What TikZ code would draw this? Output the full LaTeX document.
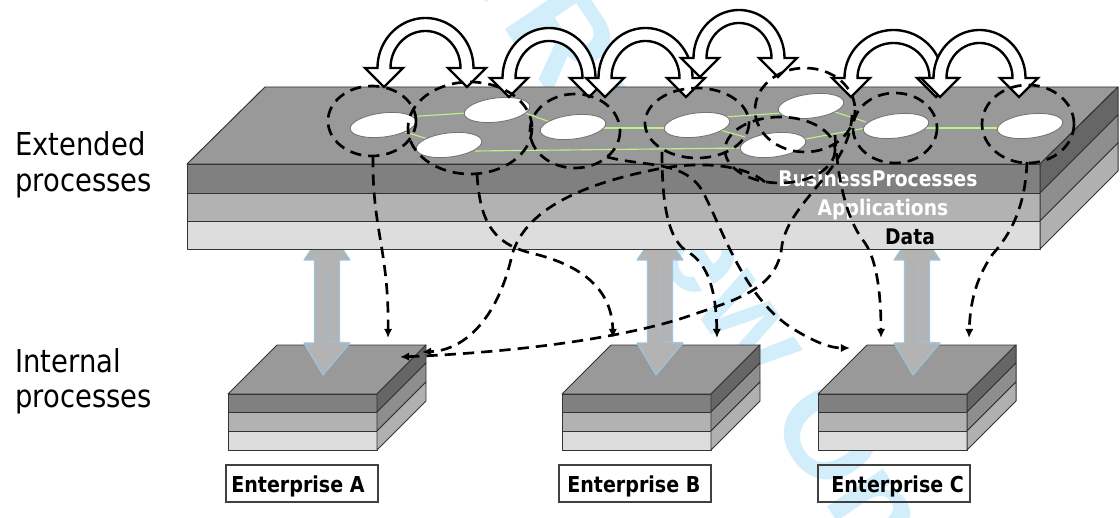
\documentclass[tikz,border=0pt]{standalone}
\usepackage{fontspec}
\setmainfont{DejaVu Sans}[FakeStretch=0.87]
\newfontfamily\wmfont{Liberation Sans}
\usetikzlibrary{arrows.meta}

\definecolor{facetop}{HTML}{999999}
\definecolor{frontdark}{HTML}{808080}
\definecolor{frontmid}{HTML}{B2B2B2}
\definecolor{frontlight}{HTML}{DDDDDD}
\definecolor{sidedark}{HTML}{666666}
\definecolor{sidemid}{HTML}{8E8E8E}
\definecolor{sidelight}{HTML}{B0B0B0}
\definecolor{edgegray}{HTML}{333333}
\definecolor{flowgreen}{HTML}{BFF08C}
\definecolor{shaftgray}{HTML}{B3B3B3}
\definecolor{shaftedge}{HTML}{9DC3DD}
\definecolor{wmcyan}{HTML}{D3EEFB}

% hollow double-headed arc: left leg x, right leg x, base y, apex y
\newcommand\hollowarc[4]{%
  \pgfmathsetmacro\hcx{(#1+#2)/2}%
  \pgfmathsetmacro\hR{(#2-#1)/2}%
  \pgfmathsetmacro\hro{\hR+6.5}%
  \pgfmathsetmacro\hri{\hR-6.5}%
  \pgfmathsetmacro\hyo{#3-#4}%
  \pgfmathsetmacro\hyi{\hyo-13}%
  \draw[hollow] (#1-6.5,#3)
    -- plot[domain=180:360,samples=48] ({\hcx+\hro*cos(\x)},{#3+\hyo*sin(\x)})
    -- (#2+19,#3) -- (#2,#3+19) -- (#2-19,#3) -- (#2-6.5,#3)
    -- plot[domain=360:180,samples=48] ({\hcx+\hri*cos(\x)},{#3+\hyi*sin(\x)})
    -- (#1+19,#3) -- (#1,#3+19) -- (#1-19,#3) -- cycle;
}

\begin{document}
\begin{tikzpicture}[x=0.025cm,y=-0.025cm,
  layer/.style={draw=edgegray, line width=0.7pt, line join=round},
  proc/.style={draw=black!55, fill=white, line width=0.6pt},
  flow/.style={draw=flowgreen, line width=0.8pt},
  hollow/.style={draw=black, fill=white, line width=1.7pt, line join=miter},
  lasso/.style={draw=black, line width=1.9pt, dash pattern=on 8pt off 5pt},
  tail/.style={lasso, -{Latex[length=6.5pt,width=6pt]}},
  updown/.style={fill=shaftgray, draw=shaftedge, line width=0.8pt, line join=round},
  wm/.style={text=wmcyan, font=\wmfont\bfseries\fontsize{91}{91}\selectfont, inner sep=0pt},
  sidelabel/.style={font=\fontsize{22.4}{26}\selectfont, inner sep=0pt},
  entfont/.style={font=\bfseries\fontsize{15.6}{18}\selectfont, inner sep=0pt},
  layertext/.style={font=\bfseries\fontsize{15.3}{18}\selectfont, inner sep=0pt},
  entframe/.style={draw=black!75, line width=0.8pt, minimum width=3.8cm, minimum height=0.925cm, inner sep=0pt}
]
\useasboundingbox (0,0) rectangle (1120,518);
\fill[white] (0,0) rectangle (1120,518);

% review watermark, behind everything
\begin{scope}
  \clip (0,0) rectangle (1120,518);
  \node[wm, anchor=base west, rotate=-56] (wmtail) at (500,22) {Review Only};
  \node[wm, anchor=base east, rotate=-56] (wmhead) at (500,22) {For Peer\ };
\end{scope}

% left-hand labels
\node[sidelabel, anchor=base west] (ext1) at (15,156) {Extended};
\node[sidelabel, anchor=base west] (ext2) at (15,192) {processes};
\node[sidelabel, anchor=base west] (int1) at (15,372) {Internal};
\node[sidelabel, anchor=base west] (int2) at (15,407) {processes};

% enterprise stacks
\foreach \x in {228,562,818}{
  \fill[layer, fill=facetop] (\x,394) -- (\x+49,345) -- (\x+198,345) -- (\x+149,394) -- cycle;
  \fill[layer, fill=frontdark] (\x,394) rectangle (\x+149,412);
  \fill[layer, fill=frontmid] (\x,412) rectangle (\x+149,431);
  \fill[layer, fill=frontlight] (\x,431) rectangle (\x+149,450);
  \fill[layer, fill=sidedark] (\x+149,394) -- (\x+198,345) -- (\x+198,363) -- (\x+149,412) -- cycle;
  \fill[layer, fill=sidemid] (\x+149,412) -- (\x+198,363) -- (\x+198,382) -- (\x+149,431) -- cycle;
  \fill[layer, fill=sidelight] (\x+149,431) -- (\x+198,382) -- (\x+198,401) -- (\x+149,450) -- cycle;
}

% enterprise names
\node[entframe] (boxA) at (302,483.5) {};
\node[entframe] (boxB) at (635,483.5) {};
\node[entframe] (boxC) at (894,483.5) {};
\node[entfont, anchor=base west] (labA) at (231,492) {Enterprise A};
\node[entfont, anchor=base west] (labB) at (567,492) {Enterprise B};
\node[entfont, anchor=base west] (labC) at (831,492) {Enterprise C};

% vertical exchange arrows between the shared layer and each enterprise
\foreach \c in {327,660,917}{
  \draw[updown] (\c,226) -- (\c+23,260) -- (\c+12.5,260) -- (\c+12.5,343) -- (\c+23,343)
    -- (\c-4,375) -- (\c-23,343) -- (\c-12.5,343) -- (\c-12.5,260) -- (\c-23,260) -- cycle;
  \draw[shaftedge, line width=0.6pt] (\c+1,262) -- (\c+1,341) -- (\c+23,343);
}

% shared slab
\fill[layer, fill=facetop] (187,164) -- (265,87) -- (1118,87) -- (1040,164) -- cycle;
\fill[layer, fill=frontdark] (187,164) rectangle (1040,193);
\fill[layer, fill=frontmid] (187,193) rectangle (1040,221);
\fill[layer, fill=frontlight] (187,221) rectangle (1040,249);
\fill[layer, fill=sidedark] (1040,164) -- (1118,87) -- (1118,115) -- (1040,193) -- cycle;
\fill[layer, fill=sidemid] (1040,193) -- (1118,115) -- (1118,143) -- (1040,221) -- cycle;
\fill[layer, fill=sidelight] (1040,221) -- (1118,143) -- (1118,171) -- (1040,249) -- cycle;

\node[layertext, text=white, anchor=base] (bp) at (878,187) {BusinessProcesses};
\node[layertext, text=white, anchor=base] (ap) at (883,216) {Applications};
\node[layertext, text=black, anchor=base] (da) at (910,245) {Data};

% links between process steps
\draw[flow] (405,117) -- (467,113);
\draw[flow] (405,132) -- (428,139);
\draw[flow] (475,151) -- (745,148);
\draw[flow] (525,113) -- (550,122);
\draw[flow] (600,128) -- (668,128);
\draw[flow] (725,117) -- (782,113);
\draw[flow] (720,130) -- (745,137);
\draw[flow] (835,112) -- (866,122);
\draw[flow] (800,140) -- (866,128);
\draw[flow] (925,128) -- (1000,128);

% process steps
\foreach \px/\py in {383/125,497/110,449/145,573/127,697/125,811/106,773/145,896/126,1030/126}{
  \draw[proc, rotate around={7:(\px,\py)}] (\px,\py) ellipse [x radius=33, y radius=12];
}

% hand-overs between process groups
\hollowarc{384}{467}{68}{18}
\hollowarc{509}{589}{78}{28}
\hollowarc{605}{686}{78}{28}
\hollowarc{700}{778}{58}{10}
\hollowarc{851}{936}{78}{30}
\hollowarc{940}{1019}{78}{30}

% process groups
\draw[lasso] (372,121) ellipse [x radius=44, y radius=35];
\draw[lasso] (470,128) ellipse [x radius=62, y radius=46];
\draw[lasso] (575,131) ellipse [x radius=45, y radius=37];
\draw[lasso] (697,123) ellipse [x radius=52, y radius=35];
\draw[lasso] (805,110) ellipse [x radius=50, y radius=42];
\draw[lasso] (780,150) ellipse [x radius=55, y radius=33];
\draw[lasso] (895,128) ellipse [x radius=42, y radius=35];
\draw[lasso] (1028,124) ellipse [x radius=46, y radius=39];

% assignment of each group to an enterprise
\coordinate (t1s) at (373,156);  \coordinate (t1e) at (388,338);
\coordinate (t2s) at (477,174);  \coordinate (t2e) at (613,338);
\coordinate (t3s) at (765,182);  \coordinate (t3e) at (422,352);
\coordinate (t4s) at (852,115);  \coordinate (t4e) at (400,357);
\coordinate (t5s) at (662,152);  \coordinate (t5e) at (717,338);
\coordinate (t6s) at (607,157);  \coordinate (t6e) at (850,348);
\coordinate (t7s) at (835,135);  \coordinate (t7e) at (881,338);
\coordinate (t8s) at (1027,162); \coordinate (t8e) at (969,338);

\draw[tail] (t1s) .. controls (372,230) and (389,250) .. (t1e);
\draw[tail] (t2s) .. controls (480,225) and (495,245) .. (535,254)
                  .. controls (590,268) and (612,295) .. (t2e);
\draw[tail] (t3s) .. controls (745,165) and (700,160) .. (653,170)
                  .. controls (580,185) and (525,210) .. (512,255)
                  .. controls (500,310) and (470,350) .. (t3e);
\draw[tail] (t4s) .. controls (850,170) and (790,200) .. (782,245)
                  .. controls (778,290) and (735,300) .. (683,318)
                  .. controls (620,338) and (520,352) .. (t4e);
\draw[tail] (t5s) .. controls (662,205) and (668,240) .. (688,252)
                  .. controls (708,264) and (716,290) .. (t5e);
\draw[tail] (t6s) .. controls (645,167) and (685,160) .. (703,192)
                  .. controls (725,235) and (745,300) .. (795,330)
                  .. controls (815,342) and (830,348) .. (t6e);
\draw[tail] (t7s) .. controls (838,185) and (848,222) .. (865,243)
                  .. controls (878,262) and (881,300) .. (t7e);
\draw[tail] (t8s) .. controls (1025,215) and (1005,240) .. (992,255)
                  .. controls (975,280) and (970,305) .. (t8e);
\end{tikzpicture}
\end{document}
